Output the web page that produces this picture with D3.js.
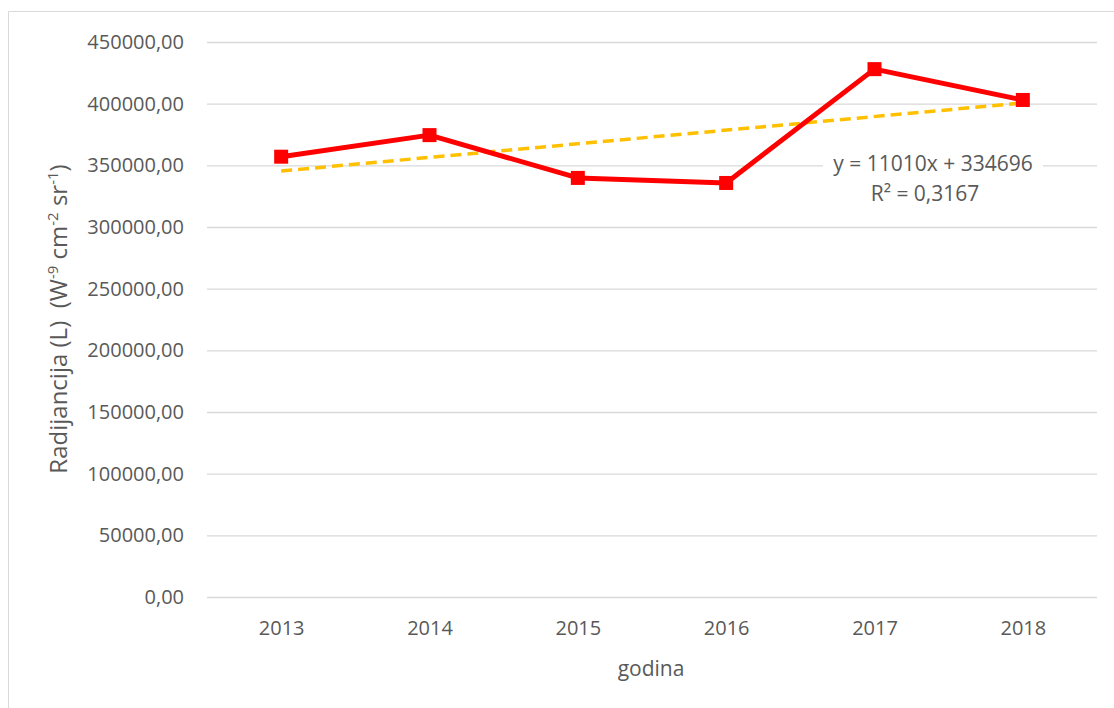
<!DOCTYPE html>
<html>
<head>
<meta charset="utf-8">
<title>Radijancija</title>
<script src="https://cdn.jsdelivr.net/npm/d3@7"></script>
<style>
  body { margin: 0; background: #fff; }
  svg text { font-family: "Open Sans", sans-serif; fill: #595959; }
</style>
</head>
<body>
<div id="chart"></div>
<script>
// data
const years = ["2013", "2014", "2015", "2016", "2017", "2018"];
const radiance = [357000, 374500, 339800, 335700, 428000, 403000];
const yTicks = [0, 50000, 100000, 150000, 200000, 250000, 300000, 350000, 400000, 450000];
const trendLabel = ["y = 11010x + 334696", "R² = 0,3167"];

const width = 1114, height = 708;
const margin = {top: 42, right: 17, bottom: 111, left: 207};

const svg = d3.select("#chart").append("svg")
    .attr("width", width)
    .attr("height", height);

// chart frame
svg.append("path")
    .attr("d", `M8.5,${height} V11.5 H${width}`)
    .attr("fill", "none")
    .attr("stroke", "#d9d9d9");

const x = d3.scalePoint()
    .domain(years)
    .range([margin.left, width - margin.right])
    .padding(0.5);

const y = d3.scaleLinear()
    .domain([0, 450000])
    .range([height - margin.bottom, margin.top]);

const fmt = d => d3.format(".2f")(d).replace(".", ",");

// y axis: gridlines + labels
svg.append("g")
    .attr("transform", `translate(${margin.left},0)`)
    .call(d3.axisLeft(y).tickValues(yTicks).tickFormat(fmt)
        .tickSize(-(width - margin.left - margin.right)).tickPadding(23))
    .call(g => g.select(".domain").remove())
    .call(g => g.selectAll(".tick line").attr("stroke", "#d9d9d9").attr("stroke-width", 1.3))
    .call(g => g.selectAll(".tick text").style("font-size", "20px").attr("fill", "#595959"));

// x axis labels
svg.append("g")
    .attr("transform", `translate(0,${height - margin.bottom})`)
    .call(d3.axisBottom(x).tickSize(0).tickPadding(24))
    .call(g => g.select(".domain").remove())
    .call(g => g.selectAll(".tick text").style("font-size", "20px").attr("fill", "#595959"));

// linear trend (least squares on index 1..n)
const xs = years.map((d, i) => i + 1);
const mx = d3.mean(xs), my = d3.mean(radiance);
const slope = d3.sum(xs, (v, i) => (v - mx) * (radiance[i] - my)) / d3.sum(xs, v => (v - mx) ** 2);
const icpt = my - slope * mx;

svg.append("line")
    .attr("x1", x(years[0]))
    .attr("y1", y(icpt + slope * xs[0]))
    .attr("x2", x(years[years.length - 1]))
    .attr("y2", y(icpt + slope * xs[xs.length - 1]))
    .attr("stroke", "#ffc000")
    .attr("stroke-width", 3.5)
    .attr("stroke-dasharray", "11,6");

// series line
const line = d3.line()
    .x((d, i) => x(years[i]))
    .y(d => y(d));

svg.append("path")
    .datum(radiance)
    .attr("d", line)
    .attr("fill", "none")
    .attr("stroke", "#ff0000")
    .attr("stroke-width", 5)
    .attr("stroke-linejoin", "round");

svg.append("g")
    .selectAll("rect")
    .data(radiance)
    .join("rect")
    .attr("x", (d, i) => x(years[i]) - 7)
    .attr("y", d => y(d) - 7)
    .attr("width", 14)
    .attr("height", 14)
    .attr("fill", "#ff0000");

// trend label with white box
const lbl = svg.append("g").attr("transform", "translate(933,0)");
lbl.append("rect")
    .attr("x", -110).attr("y", 143)
    .attr("width", 220).attr("height", 64)
    .attr("fill", "#fff");
lbl.selectAll("text")
    .data(trendLabel)
    .join("text")
    .attr("x", (d, i) => i ? -8 : 0)
    .attr("y", (d, i) => 171 + i * 30)
    .attr("text-anchor", "middle")
    .style("font-size", "21px")
    .text(d => d);

// axis titles
svg.append("text")
    .attr("x", 651)
    .attr("y", 676)
    .attr("text-anchor", "middle")
    .style("font-size", "21px")
    .text("godina");

const yt = svg.append("text")
    .attr("transform", "translate(67,319) rotate(-90)")
    .attr("text-anchor", "middle")
    .style("font-size", "24px")
    .style("white-space", "pre");
yt.append("tspan").text("Radijancija (L)  (W");
yt.append("tspan").attr("dy", -9).style("font-size", "15px").text("-9");
yt.append("tspan").attr("dy", 9).text(" cm");
yt.append("tspan").attr("dy", -9).style("font-size", "15px").text("-2");
yt.append("tspan").attr("dy", 9).text(" sr");
yt.append("tspan").attr("dy", -9).style("font-size", "15px").text("-1");
yt.append("tspan").attr("dy", 9).text(")");
</script>
</body>
</html>
